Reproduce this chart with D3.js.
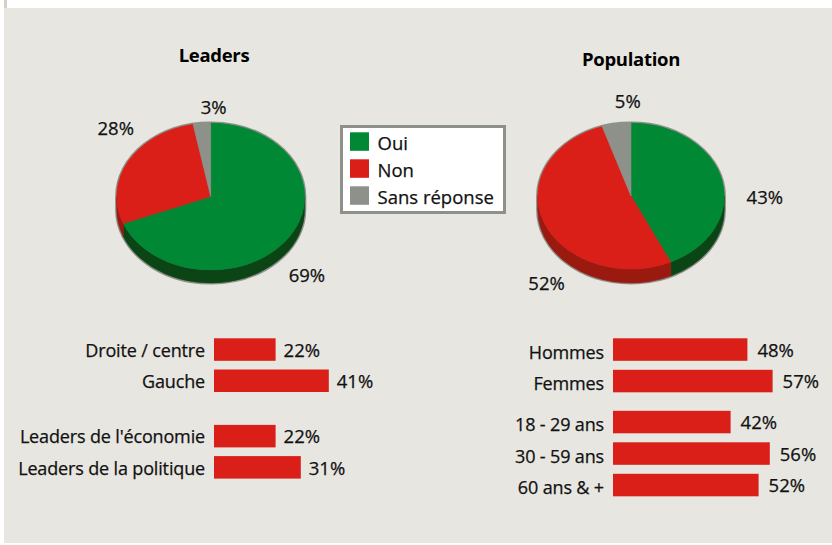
<!DOCTYPE html>
<html><head><meta charset="utf-8">
<script src="https://cdn.jsdelivr.net/npm/d3@7"></script>
<style>
html,body{margin:0;padding:0;background:#fff;}
svg{display:block;font-family:"Open Sans",sans-serif;}
</style></head>
<body><svg id="c" width="832" height="545"></svg>
<script>
// ---- data ----
const answers = ["Oui", "Non", "Sans réponse"];
const leadersPie = [69, 28, 3];
const populationPie = [43, 52, 5];
const pieTitles = ["Leaders", "Population"];

const leftBarLabels = ["Droite / centre", "Gauche", "Leaders de l'économie", "Leaders de la politique"];
const leftBarValues = [22, 41, 22, 31];
const leftBarGroups = [0, 0, 1, 1];

const rightBarLabels = ["Hommes", "Femmes", "18 - 29 ans", "30 - 59 ans", "60 ans & +"];
const rightBarValues = [48, 57, 42, 56, 52];
const rightBarGroups = [0, 0, 1, 1, 1];

// ---- styles / layout ----
const topColors = ["#008834", "#da1e18", "#8e918a"];
const sideColors = ["#0b4516", "#9a1a10", "#5e605a"];
const panelColor = "#e7e6e1";
const textColor = "#111";

const svg = d3.select("#c");
svg.append("rect").attr("x", 4).attr("y", 0).attr("width", 3).attr("height", 8).attr("fill", "#d3d1ca");
svg.append("rect").attr("x", 4).attr("y", 8).attr("width", 828).attr("height", 535).attr("fill", panelColor);

const pieLayouts = [
  {cx: 210.7, cy: 196.5, rx: 94, ry: 73.5, depth: 13, titleX: 214, titleY: 62,
   nudges: [[-1, 13], [8, -25], [14, 1]]},
  {cx: 631, cy: 196, rx: 93.3, ry: 73, depth: 14, titleX: 631, titleY: 66,
   nudges: [[20, 20], [24, 39], [15, -5]]}
];

const pieGen = d3.pie().sort(null).value(d => d);

function txt(sel) {
  return sel.attr("fill", textColor).attr("stroke", textColor).attr("stroke-width", 0.25);
}

function drawPie(values, L, title) {
  const g = svg.append("g");
  const pt = (a, dy = 0) => [L.cx + L.rx * Math.sin(a), L.cy - L.ry * Math.cos(a) + dy];
  const arcs = pieGen(values);
  // silhouette outline
  g.append("path")
    .attr("d", `M${L.cx - L.rx},${L.cy} A${L.rx},${L.ry} 0 0 1 ${L.cx + L.rx},${L.cy} L${L.cx + L.rx},${L.cy + L.depth} A${L.rx},${L.ry} 0 0 1 ${L.cx - L.rx},${L.cy + L.depth} Z`)
    .attr("fill", "#8e918a").attr("stroke", "#8e918a").attr("stroke-width", 3.2);
  // sides
  arcs.forEach((a, i) => {
    const s = Math.max(a.startAngle, Math.PI / 2), e = Math.min(a.endAngle, 3 * Math.PI / 2);
    if (e <= s) return;
    const p0 = pt(s), p1 = pt(e), q1 = pt(e, L.depth), q0 = pt(s, L.depth);
    const large = (e - s) > Math.PI ? 1 : 0;
    g.append("path")
      .attr("d", `M${p0} A${L.rx},${L.ry} 0 ${large} 1 ${p1} L${q1} A${L.rx},${L.ry} 0 ${large} 0 ${q0} Z`)
      .attr("fill", sideColors[i]).attr("stroke", sideColors[i]).attr("stroke-width", 0.6);
  });
  // tops
  arcs.forEach((a, i) => {
    const p0 = pt(a.startAngle), p1 = pt(a.endAngle);
    const large = (a.endAngle - a.startAngle) > Math.PI ? 1 : 0;
    g.append("path")
      .attr("d", `M${L.cx},${L.cy} L${p0} A${L.rx},${L.ry} 0 ${large} 1 ${p1} Z`)
      .attr("fill", topColors[i]).attr("stroke", topColors[i]).attr("stroke-width", 0.6);
  });
  // labels
  arcs.forEach((a, i) => {
    const m = (a.startAngle + a.endAngle) / 2;
    const k = 1.25;
    const lower = Math.cos(m) < 0 ? L.depth : 0;
    const x = L.cx + L.rx * k * Math.sin(m) + L.nudges[i][0];
    const y = L.cy - L.ry * k * Math.cos(m) + lower + L.nudges[i][1];
    txt(g.append("text").attr("x", x).attr("y", y).attr("text-anchor", "middle")
      .attr("dominant-baseline", "central")
      .attr("font-size", 18.5)).text(values[i] + "%");
  });
  svg.append("text").attr("x", L.titleX).attr("y", L.titleY).attr("text-anchor", "middle")
    .attr("font-weight", "bold").attr("font-size", 18.5).attr("fill", "#000")
    .attr("letter-spacing", "-0.3").text(title);
}
drawPie(leadersPie, pieLayouts[0], pieTitles[0]);
drawPie(populationPie, pieLayouts[1], pieTitles[1]);

// legend
const lg = svg.append("g");
lg.append("rect").attr("x", 341.5).attr("y", 126.5).attr("width", 163).attr("height", 86)
  .attr("fill", "#fff").attr("stroke", "#8e918a").attr("stroke-width", 3);
answers.forEach((t, i) => {
  lg.append("rect").attr("x", 350).attr("y", 132.3 + i * 27).attr("width", 19).attr("height", 18.5).attr("fill", topColors[i]);
  txt(lg.append("text").attr("x", 377.5).attr("y", 149.5 + i * 27).attr("font-size", 18.5)).text(t);
});

// bars
const x = d3.scaleLinear().domain([0, 100]).range([0, 280]);
function drawBars(labels, values, groups, B) {
  const g = svg.append("g");
  labels.forEach((lab, i) => {
    const top = B.top + i * B.pitch + groups[i] * B.gap;
    g.append("rect").attr("x", B.x0).attr("y", top).attr("width", x(values[i])).attr("height", 22.5).attr("fill", "#da1e18");
    txt(g.append("text").attr("x", B.labelX).attr("y", top + B.labelDy).attr("text-anchor", "end")
      .attr("font-size", 18).attr("letter-spacing", "-0.15")).text(lab);
    txt(g.append("text").attr("x", B.x0 + x(values[i]) + B.valueDx).attr("y", top + 18.5)
      .attr("font-size", 18.5)).text(values[i] + "%");
  });
}
drawBars(leftBarLabels, leftBarValues, leftBarGroups, {x0: 214, top: 338.3, pitch: 31.2, gap: 24.2, labelX: 205, labelDy: 18.5, valueDx: 8});
drawBars(rightBarLabels, rightBarValues, rightBarGroups, {x0: 613, top: 338.3, pitch: 31.5, gap: 9.5, labelX: 604, labelDy: 20.5, valueDx: 10});
</script></body></html>
